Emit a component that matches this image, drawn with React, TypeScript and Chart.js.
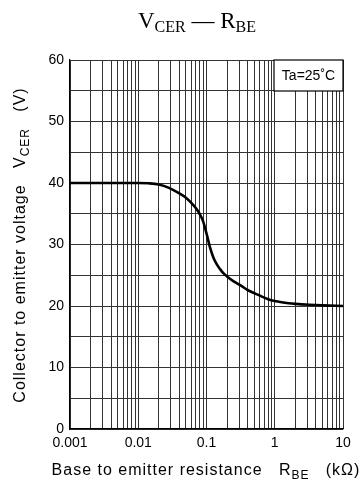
import React, { useEffect, useRef } from "react";
import { Chart, registerables } from "chart.js";

Chart.register(...registerables);

const resistanceK = [0.001, 0.005, 0.01, 0.0141, 0.02, 0.0282, 0.04, 0.05, 0.056, 0.063, 0.071, 0.079, 0.089, 0.1, 0.112, 0.126, 0.141, 0.158, 0.178, 0.2, 0.25, 0.32, 0.4, 0.5, 0.63, 0.8, 1.0, 1.26, 1.6, 2, 3.2, 5, 10];
const vcer = [40, 40, 40, 39.95, 39.75, 39.2, 38.3, 37.6, 37.1, 36.5, 35.8, 35.0, 33.8, 31.8, 29.6, 27.9, 26.8, 26.0, 25.3, 24.8, 24.0, 23.3, 22.6, 22.1, 21.6, 21.1, 20.8, 20.6, 20.45, 20.35, 20.2, 20.1, 20];

const xGridValues = [
  0.001, 0.002, 0.003, 0.004, 0.005, 0.006, 0.007, 0.008, 0.009,
  0.01, 0.02, 0.03, 0.04, 0.05, 0.06, 0.07, 0.08, 0.09,
  0.1, 0.2, 0.3, 0.4, 0.5, 0.6, 0.7, 0.8, 0.9,
  1, 2, 3, 4, 5, 6, 7, 8, 9, 10,
];
const xTickLabels: Record<string, string> = { "0.001": "0.001", "0.01": "0.01", "0.1": "0.1", "1": "1", "10": "10" };
const yTickLabels = [0, 10, 20, 30, 40, 50, 60];

const SANS = "'Liberation Sans', Arial, Helvetica, sans-serif";
const SERIF = "'Liberation Serif', 'Times New Roman', serif";

type Seg = { t: string; sub?: boolean };

function drawSegs(ctx: CanvasRenderingContext2D, segs: Seg[], cx: number, baseY: number, size: number, subSize: number, subDrop: number, family: string, spacing = 0) {
  (ctx as any).letterSpacing = `${spacing}px`;
  const widths = segs.map((s) => {
    ctx.font = `${s.sub ? subSize : size}px ${family}`;
    return ctx.measureText(s.t).width;
  });
  const total = widths.reduce((a, b) => a + b, 0);
  let x = cx - total / 2;
  ctx.textAlign = "left";
  ctx.textBaseline = "alphabetic";
  segs.forEach((s, i) => {
    ctx.font = `${s.sub ? subSize : size}px ${family}`;
    ctx.fillText(s.t, x, s.sub ? baseY + subDrop : baseY);
    x += widths[i];
  });
  (ctx as any).letterSpacing = "0px";
}

const textPlugin = {
  id: "texts",
  afterDraw(chart: any) {
    const ctx: CanvasRenderingContext2D = chart.ctx;
    const ca = chart.chartArea;
    ctx.save();
    ctx.fillStyle = "#000";
    // title
    drawSegs(ctx, [{ t: "V" }, { t: "CER", sub: true }, { t: " \u2014 " }, { t: "R" }, { t: "BE", sub: true }], 197, 28, 23, 16, 4, SERIF);
    // x title
    drawSegs(ctx, [{ t: "Base to emitter resistance   " }, { t: "R" }, { t: "BE", sub: true }, { t: "   (k\u03A9)" }], 206, 475, 16, 12, 4, SANS, 1);
    // y title
    ctx.save();
    ctx.translate(25, 245);
    ctx.rotate(-Math.PI / 2);
    drawSegs(ctx, [{ t: "Collector to emitter voltage   " }, { t: "V" }, { t: "CER", sub: true }, { t: "   (V)" }], 0, 0, 16, 12, 4, SANS, 1);
    ctx.restore();
    // Ta box
    const bw = 69, bh = 31;
    ctx.fillStyle = "#fff";
    ctx.fillRect(ca.right - bw, ca.top, bw, bh);
    ctx.strokeStyle = "#000";
    ctx.lineWidth = 1.2;
    ctx.strokeRect(ca.right - bw, ca.top, bw, bh);
    ctx.fillStyle = "#000";
    ctx.font = `14px ${SANS}`;
    ctx.textAlign = "center";
    ctx.textBaseline = "middle";
    ctx.fillText("Ta=25\u02DAC", ca.right - bw / 2, ca.top + bh / 2 + 1);
    ctx.restore();
  },
};

export default function App() {
  const ref = useRef<HTMLCanvasElement>(null);
  useEffect(() => {
    if (!ref.current) return;
    const chart = new Chart(ref.current, {
      type: "line",
      data: {
        datasets: [
          {
            data: resistanceK.map((x, i) => ({ x, y: vcer[i] })),
            borderColor: "#000",
            borderWidth: 2.6,
            pointRadius: 0,
            fill: false,
            cubicInterpolationMode: "monotone",
          },
        ],
      },
      options: {
        animation: false,
        responsive: false,
        events: [],
        layout: { padding: { left: 0, right: 20, top: 60, bottom: 0 } },
        plugins: { legend: { display: false }, tooltip: { enabled: false }, title: { display: false } },
        scales: {
          x: {
            type: "logarithmic",
            min: 0.001,
            max: 10,
            afterBuildTicks: (scale: any) => {
              scale.ticks = xGridValues.map((v) => ({ value: v }));
            },
            afterFit: (scale: any) => {
              scale.height = 56;
            },
            ticks: {
              autoSkip: false,
              maxRotation: 0,
              padding: 6,
              color: "#000",
              font: { family: SANS, size: 14 },
              callback: (v: any) => xTickLabels[String(Number(v))] ?? "",
            },
            grid: { color: "#333", lineWidth: 1, drawTicks: false },
            border: { display: true, color: "#000", width: 1.2 },
          },
          y: {
            type: "linear",
            min: 0,
            max: 60,
            afterFit: (scale: any) => {
              scale.width = 70;
            },
            ticks: {
              stepSize: 5,
              padding: 6,
              color: "#000",
              font: { family: SANS, size: 14 },
              callback: (v: any) => (yTickLabels.includes(Number(v)) ? String(v) : ""),
            },
            grid: { color: "#333", lineWidth: 1, drawTicks: false },
            border: { display: true, color: "#000", width: 1.2 },
          },
        },
      },
      plugins: [textPlugin],
    });
    return () => chart.destroy();
  }, []);
  return (
    <div style={{ position: "fixed", left: 0, top: 0, width: 363, height: 485, background: "#fff" }}>
      <canvas ref={ref} width={363} height={485} />
    </div>
  );
}
